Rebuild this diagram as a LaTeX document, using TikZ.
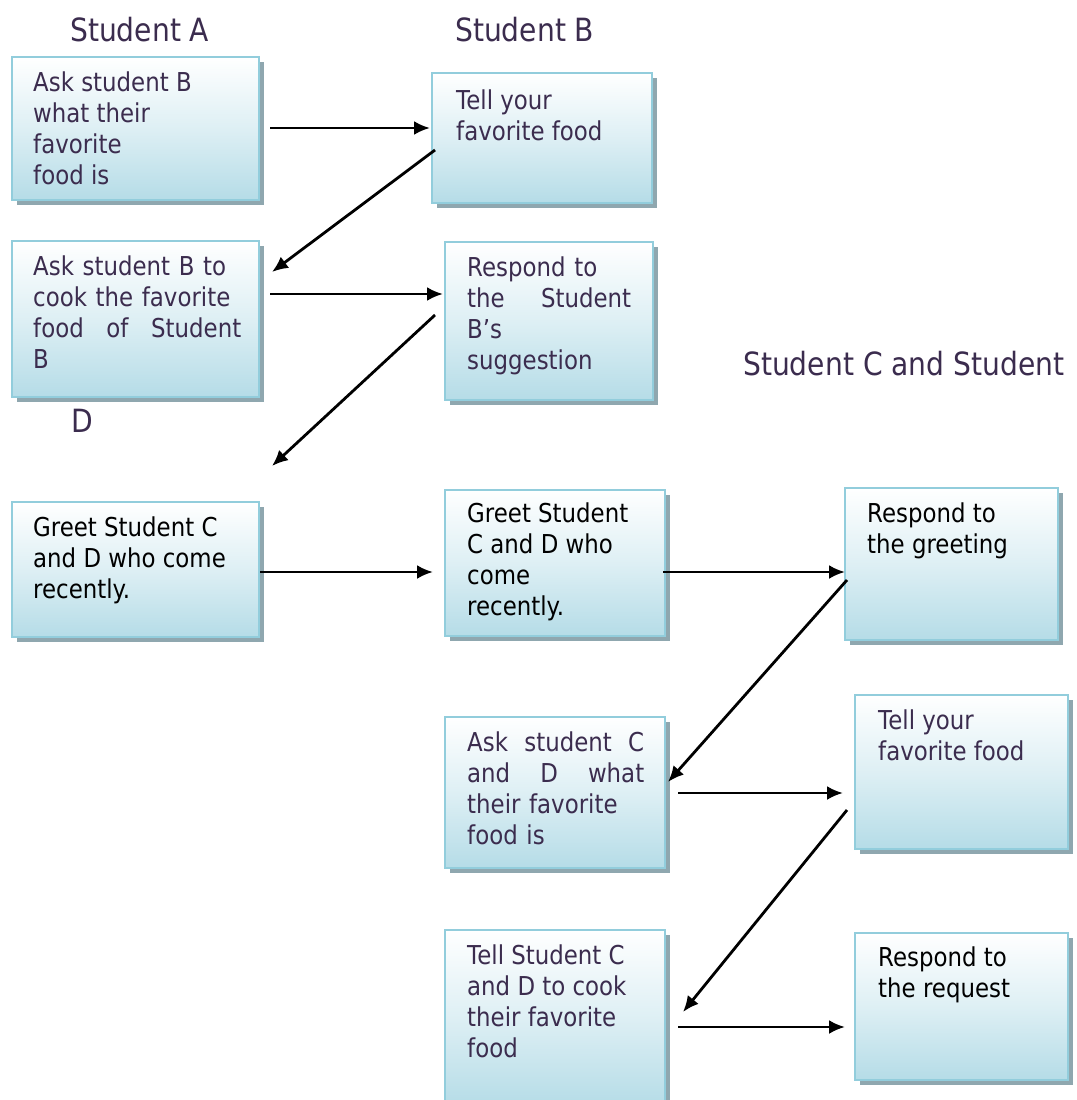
\documentclass[tikz,border=0pt]{standalone}
\usepackage{fontspec}
\setmainfont{DejaVu Sans}[FakeStretch=0.88]
\usetikzlibrary{arrows.meta,calc}
\definecolor{txtpurple}{HTML}{3B2C4E}
\definecolor{boxborder}{HTML}{92CDDC}
\definecolor{boxbottom}{HTML}{B5DCE7}
\definecolor{boxshadow}{HTML}{8FA7AF}
\tikzset{
  arr/.style={line width=2.8pt,-{Latex[length=16pt,width=14pt]}},
  shadowbox/.style={fill=boxshadow,draw=none},
  stepbox/.style={draw=boxborder,line width=2.5pt,top color=white,bottom color=boxbottom,middle color=boxbottom!45!white},
  boxtext/.style={anchor=north west,inner sep=0pt,align=left,font=\fontsize{26}{31}\selectfont},
  title/.style={anchor=base west,inner sep=0pt,text=txtpurple,font=\fontsize{32}{36}\selectfont},
}
\newcommand{\mybox}[6]{%
  \fill[shadowbox] (#2+5,#3+5) rectangle (#4+5,#5+5);
  \path[stepbox] (#2,#3) rectangle (#4,#5);
  \coordinate (#1) at (#2,#3);
  \node[#6] (#1-nw) at (#2,#3) {};
}
\begin{document}
\begin{tikzpicture}[x=1pt,y=-1pt]
\useasboundingbox (0,0) rectangle (1076,1100);
% titles
\node[title] (tA) at (70,41) {Student A};
\node[title] (tB) at (455,41) {Student B};
\node[title] (tCD) at (743,375) {Student C and Student};
\node[title] (tD) at (71,432) {D};
% boxes
\mybox{A1}{12}{57}{259}{200}{inner sep=0pt}
\mybox{B1}{432}{73}{652}{203}{inner sep=0pt}
\mybox{A2}{12}{241}{259}{397}{inner sep=0pt}
\mybox{B2}{445}{242}{653}{400}{inner sep=0pt}
\mybox{A3}{12}{502}{259}{637}{inner sep=0pt}
\mybox{M3}{445}{490}{665}{636}{inner sep=0pt}
\mybox{R3}{845}{488}{1058}{640}{inner sep=0pt}
\mybox{M4}{445}{717}{665}{868}{inner sep=0pt}
\mybox{R4}{855}{695}{1068}{849}{inner sep=0pt}
\mybox{M5}{445}{930}{665}{1106}{inner sep=0pt}
\mybox{R5}{855}{933}{1068}{1080}{inner sep=0pt}
% texts
\node[boxtext,text=txtpurple] (tA1) at ($(A1)+(21,13)$) {\strut Ask student B\\what their\\favorite\\food is};
\node[boxtext,text=txtpurple] (tB1) at ($(B1)+(24,15)$) {\strut Tell your\\favorite food};
\node[boxtext,text=txtpurple,text width=208pt] (tA2) at ($(A2)+(21,13)$) {\strut Ask student B to\\cook the favorite\\food\hfill of\hfill Student\\B};
\node[boxtext,text=txtpurple,text width=164pt] (tB2) at ($(B2)+(22,13)$) {\strut Respond to\\the\hfill Student\\B’s\\suggestion};
\node[boxtext,text=black] (tA3) at ($(A3)+(21,13)$) {\strut Greet Student C\\and D who come\\recently.};
\node[boxtext,text=black] (tM3) at ($(M3)+(22,11)$) {\strut Greet Student\\C and D who\\come\\recently.};
\node[boxtext,text=black] (tR3) at ($(R3)+(22,13)$) {\strut Respond to\\the greeting};
\node[boxtext,text=txtpurple,text width=177pt] (tM4) at ($(M4)+(22,13)$) {\strut Ask\hfill student\hfill C\\and\hfill D\hfill what\\their favorite\\food is};
\node[boxtext,text=txtpurple] (tR4) at ($(R4)+(23,13)$) {\strut Tell your\\favorite food};
\node[boxtext,text=txtpurple] (tM5) at ($(M5)+(22,13)$) {\strut Tell Student C\\and D to cook\\their favorite\\food};
\node[boxtext,text=black] (tR5) at ($(R5)+(23,12)$) {\strut Respond to\\the request};
% connector end points
\coordinate (h1s) at (270,128);  \coordinate (h1e) at (430,128);
\coordinate (h2s) at (270,294);  \coordinate (h2e) at (443,294);
\coordinate (h3s) at (260,572);  \coordinate (h3e) at (433,572);
\coordinate (h4s) at (663,572);  \coordinate (h4e) at (845,572);
\coordinate (h5s) at (678,793);  \coordinate (h5e) at (843,793);
\coordinate (h6s) at (678,1027); \coordinate (h6e) at (845,1027);
\coordinate (d1s) at (435,150);  \coordinate (d1e) at (272,272);
\coordinate (d2s) at (435,315);  \coordinate (d2e) at (272,466);
\coordinate (d3s) at (847,580);  \coordinate (d3e) at (668,782);
\coordinate (d4s) at (847,810);  \coordinate (d4e) at (683,1012);
\foreach \a in {h1,h2,h3,h4,h5,h6,d1,d2,d3,d4}
  \draw[arr] (\a s) -- (\a e);
\end{tikzpicture}
\end{document}
